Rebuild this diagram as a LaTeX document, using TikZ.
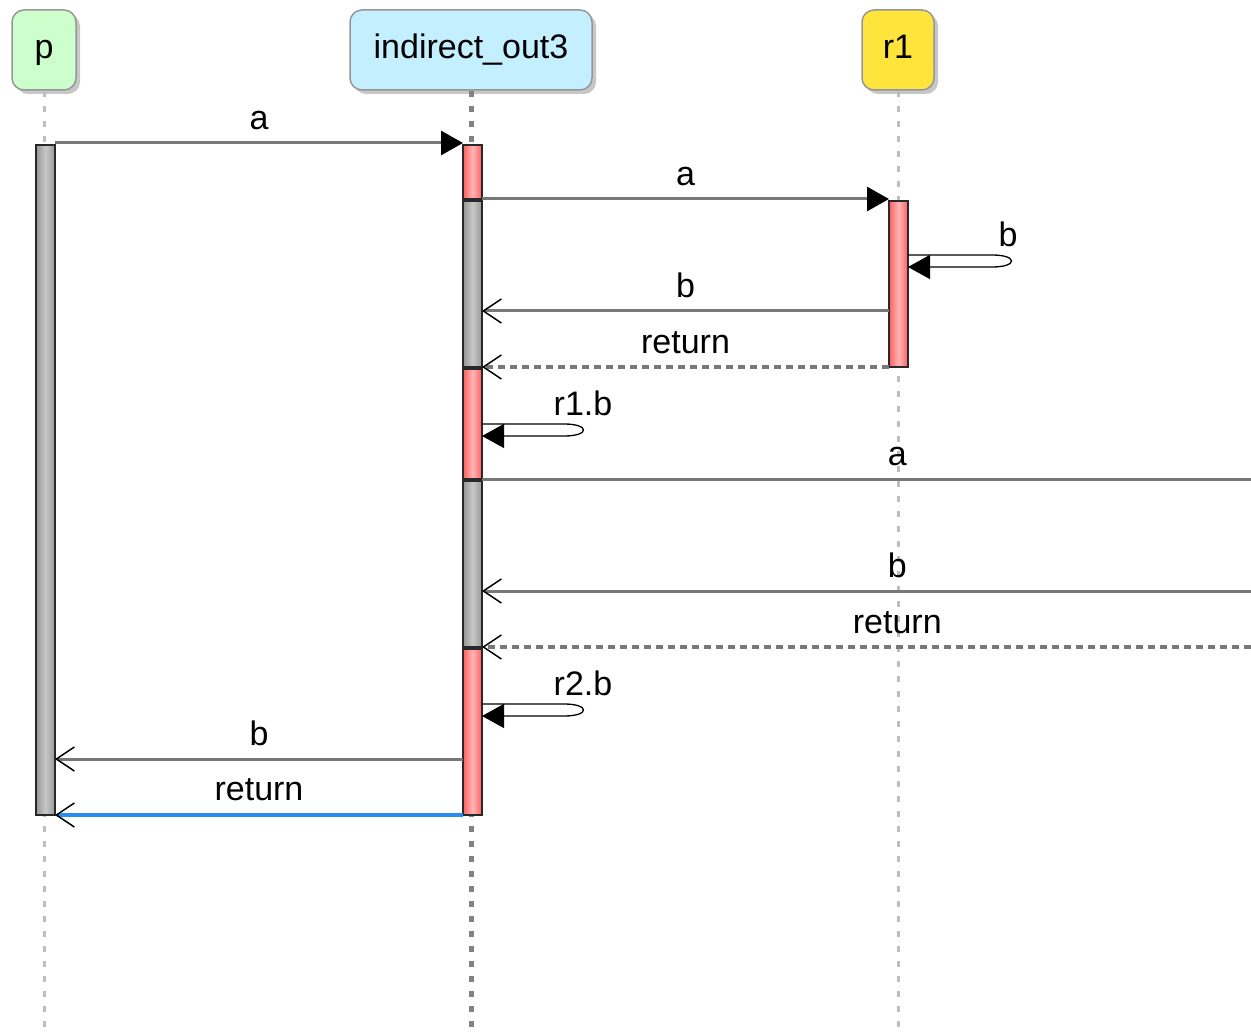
\documentclass[tikz,border=0pt]{standalone}
\usepackage{fontspec}
\setmainfont{Liberation Sans}
\usetikzlibrary{arrows.meta,shadows,calc}
\definecolor{pfill}{RGB}{204,255,204}
\definecolor{iofill}{RGB}{196,239,255}
\definecolor{rfill}{RGB}{255,228,60}
\definecolor{boxborder}{RGB}{150,150,150}
\definecolor{lifegray}{RGB}{190,190,190}
\definecolor{lifedark}{RGB}{130,130,130}
\definecolor{msggray}{RGB}{120,120,120}
\definecolor{bardark}{RGB}{40,40,40}
\definecolor{barred}{RGB}{255,95,95}
\definecolor{barredlight}{RGB}{255,180,180}
\definecolor{bargray}{RGB}{150,150,150}
\definecolor{bargraylight}{RGB}{200,200,200}
\definecolor{retblue}{RGB}{40,140,245}
\begin{document}
\begin{tikzpicture}[x=1pt,y=-1pt,
  every node/.style={font=\fontsize{34}{40}\selectfont},
  part/.style={draw=boxborder, line width=1.5pt, rounded corners=12pt, inner sep=0pt,
    minimum height=80pt, text height=25pt, text depth=7pt,
    drop shadow={shadow xshift=4pt, shadow yshift=-4pt, opacity=0.22, fill=black}},
  life/.style={draw=lifegray, line width=3pt, dash pattern=on 6pt off 9pt},
  lifemain/.style={draw=lifedark, line width=5pt, dash pattern=on 6pt off 9pt},
  actbar/.style={draw=bardark, line width=2pt, minimum width=19pt, inner sep=0pt, outer sep=0pt},
  redbar/.style={actbar, left color=barred, right color=barred, middle color=barredlight},
  graybar/.style={actbar, left color=bargray, right color=bargray, middle color=bargraylight},
  msg/.style={draw=msggray, line width=3pt},
  callmsg/.style={msg, -{Triangle[length=22pt,width=24pt,color=black]}},
  replymsg/.style={msg, -{Straight Barb[length=18pt,width=24pt,line width=1.5pt,color=black]}},
  retmsg/.style={replymsg, line width=3.5pt, dash pattern=on 7pt off 5pt},
  selfmsg/.style={draw=black, line width=1.3pt, -{Triangle[length=22pt,width=24pt]}},
  lbl/.style={inner sep=0pt, text height=25pt, text depth=7pt},
  lblabove/.style={lbl, above=5pt}]
\useasboundingbox (0,0) rectangle (1251,1032);
\coordinate (bottom) at (0,1032);
\coordinate (redge) at (1251,0);

% participants
\node[part, fill=pfill, minimum width=64pt] (p) at (44,50) {p};
\node[part, fill=iofill, minimum width=242pt] (io) at (471,50) {indirect\_out3};
\node[part, fill=rfill, minimum width=72pt] (r1) at (898,50) {r1};

% lifelines
\draw[life] (p.south) -- (p.south |- bottom);
\draw[lifemain] (io.south) -- (io.south |- bottom);
\draw[life] (r1.south) -- (r1.south |- bottom);

% activation bars
\node[graybar, minimum height=670pt] (pb) at (45.5,480) {};
\node[redbar, minimum height=54pt] (io1) at (472.5,172) {};
\node[graybar, minimum height=166pt] (io2) at (472.5,284) {};
\node[redbar, minimum height=110pt] (io3) at (472.5,424) {};
\node[graybar, minimum height=166pt] (io4) at (472.5,564) {};
\node[redbar, minimum height=166pt] (io5) at (472.5,732) {};
\node[redbar, minimum height=166pt] (r1b) at (898.5,284) {};

% message levels
\coordinate (ma1) at (0,143);
\coordinate (ma2) at (0,199);
\coordinate (s1a) at (0,255);
\coordinate (s1b) at (0,267);
\coordinate (mb1) at (0,311);
\coordinate (mr1) at (0,367);
\coordinate (s2a) at (0,424);
\coordinate (s2b) at (0,436);
\coordinate (ma3) at (0,479);
\coordinate (mb2) at (0,591);
\coordinate (mr2) at (0,647);
\coordinate (s3a) at (0,704);
\coordinate (s3b) at (0,716);
\coordinate (mb3) at (0,759);
\coordinate (mr3) at (0,815);

% messages
\draw[callmsg] (pb.east |- ma1) -- node[lblabove] {a} (io1.west |- ma1);
\draw[callmsg] (io1.east |- ma2) -- node[lblabove] {a} (r1b.west |- ma2);

\draw[selfmsg] (r1b.east |- s1a) -- ($(r1b.east |- s1a)+(84,0)$)
  .. controls ($(r1b.east |- s1a)+(110,0)$) and ($(r1b.east |- s1b)+(110,0)$) .. ($(r1b.east |- s1b)+(84,0)$)
  -- (r1b.east |- s1b);
\node[lbl] (lbs1) at (1008,238) {b};

\draw[replymsg] (r1b.west |- mb1) -- node[lblabove] {b} (io2.east |- mb1);
\draw[retmsg] (r1b.west |- mr1) -- node[lblabove] {return} (io2.east |- mr1);

\draw[selfmsg] (io3.east |- s2a) -- ($(io3.east |- s2a)+(82,0)$)
  .. controls ($(io3.east |- s2a)+(108,0)$) and ($(io3.east |- s2b)+(108,0)$) .. ($(io3.east |- s2b)+(82,0)$)
  -- (io3.east |- s2b);
\node[lbl] (lbs2) at (583,406) {r1.b};

\draw[msg] (io4.east |- ma3) -- node[lblabove, pos=0.54] {a} (redge |- ma3);
\draw[replymsg] (redge |- mb2) -- node[lblabove, pos=0.46] {b} (io4.east |- mb2);
\draw[retmsg] (redge |- mr2) -- node[lblabove, pos=0.46] {return} (io4.east |- mr2);

\draw[selfmsg] (io5.east |- s3a) -- ($(io5.east |- s3a)+(82,0)$)
  .. controls ($(io5.east |- s3a)+(108,0)$) and ($(io5.east |- s3b)+(108,0)$) .. ($(io5.east |- s3b)+(82,0)$)
  -- (io5.east |- s3b);
\node[lbl] (lbs3) at (583,686) {r2.b};

\draw[replymsg] (io5.west |- mb3) -- node[lblabove] {b} (pb.east |- mb3);
\draw[replymsg, draw=retblue, line width=4.5pt] (io5.west |- mr3) -- node[lblabove] {return} (pb.east |- mr3);
\end{tikzpicture}
\end{document}
